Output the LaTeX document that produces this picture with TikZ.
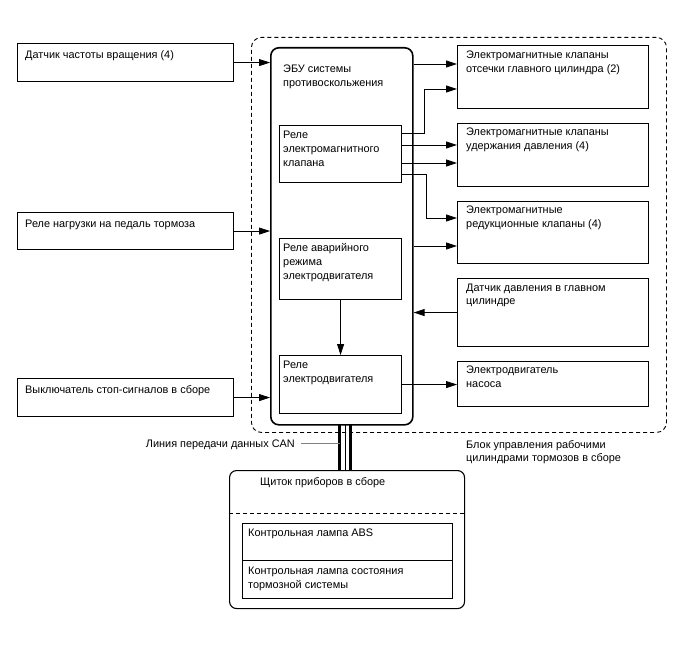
\documentclass[tikz,border=0pt]{standalone}
\usepackage{fontspec}
\setmainfont{Liberation Sans}
\usetikzlibrary{positioning,arrows.meta}

\begin{document}
\begin{tikzpicture}[x=1pt, y=-1pt,
    box/.style={draw, line width=1.1pt, anchor=north west, inner sep=0pt},
    txt/.style={anchor=north west, align=left, inner sep=0pt, font=\fontsize{10.9}{13.7}\selectfont, execute at begin node=\strut},
    sig/.style={-{Triangle[length=11pt,width=7pt]}, line width=0.8pt}]
    \useasboundingbox (0,0) rectangle (688,658);

    % Brake actuator assembly (dashed frame) and ECU
    \node[box, dashed, dash pattern=on 4pt off 3pt, line width=0.9pt, rounded corners=10pt, minimum width=415pt, minimum height=395pt] (unit) at (251,37) {};
    \node[box, line width=1.6pt, rounded corners=8pt, minimum width=142pt, minimum height=377pt] (ecu) at (270,47) {};
    \node[txt] (ecutxt) at ([shift={(13,17.5)}]ecu.north west) {ЭБУ системы\\противоскольжения};

    % Relays inside the ECU
    \node[box, minimum width=122pt, minimum height=57pt] (valverly) at (279,125) {};
    \node[txt] (valverlytxt) at ([shift={(4,6)}]valverly.north west) {Реле\\электромагнитного\\клапана};
    \node[box, minimum width=122pt, minimum height=61pt] (failrly) at (279,238) {};
    \node[txt] (failrlytxt) at ([shift={(4,5.5)}]failrly.north west) {Реле аварийного\\режима\\электродвигателя};
    \node[box, minimum width=122pt, minimum height=58pt] (motorrly) at (279,355) {};
    \node[txt] (motorrlytxt) at ([shift={(4,6)}]motorrly.north west) {Реле\\электродвигателя};

    % Inputs
    \node[box, minimum width=216pt, minimum height=38pt] (speed) at (17,43) {};
    \node[txt] (speedtxt) at ([shift={(8,5.5)}]speed.north west) {Датчик частоты вращения (4)};
    \node[box, minimum width=216pt, minimum height=37pt] (pedal) at (17,212) {};
    \node[txt] (pedaltxt) at ([shift={(8,5.5)}]pedal.north west) {Реле нагрузки на педаль тормоза};
    \node[box, minimum width=216pt, minimum height=38pt] (stopsw) at (17,378) {};
    \node[txt] (stopswtxt) at ([shift={(8,5.5)}]stopsw.north west) {Выключатель стоп-сигналов в сборе};

    % Outputs
    \node[box, minimum width=191pt, minimum height=63pt] (cutvlv) at (457,45) {};
    \node[txt] (cutvlvtxt) at ([shift={(9,5.5)}]cutvlv.north west) {Электромагнитные клапаны\\отсечки главного цилиндра (2)};
    \node[box, minimum width=191pt, minimum height=63pt] (holdvlv) at (457,123) {};
    \node[txt] (holdvlvtxt) at ([shift={(9,4.5)}]holdvlv.north west) {Электромагнитные клапаны\\удержания давления (4)};
    \node[box, minimum width=191pt, minimum height=62pt] (redvlv) at (457,201) {};
    \node[txt] (redvlvtxt) at ([shift={(9,4.5)}]redvlv.north west) {Электромагнитные\\редукционные клапаны (4)};
    \node[box, minimum width=191pt, minimum height=68pt] (mcsensor) at (457,278) {};
    \node[txt] (mcsensortxt) at ([shift={(9,5.5)}]mcsensor.north west) {Датчик давления в главном\\цилиндре};
    \node[box, minimum width=191pt, minimum height=45pt] (pump) at (457,361) {};
    \node[txt] (pumptxt) at ([shift={(9,4.5)}]pump.north west) {Электродвигатель\\насоса};

    \node[txt] (unittxt) at (466,440) {Блок управления рабочими\\цилиндрами тормозов в сборе};

    % Combination meter
    \node[box, rounded corners=7pt, minimum width=235pt, minimum height=138pt] (meter) at (229,470) {};
    \node[txt] (metertxt) at ([shift={(31,6)}]meter.north west) {Щиток приборов в сборе};
    \draw[dashed, dash pattern=on 4pt off 3pt, line width=0.9pt] ([yshift=-43]meter.north west) -- ([yshift=-43]meter.north east);
    \node[box, minimum width=210pt, minimum height=37pt] (abslamp) at (242,523) {};
    \node[txt] (abslamptxt) at ([shift={(6,4)}]abslamp.north west) {Контрольная лампа ABS};
    \node[box, minimum width=210pt, minimum height=38pt] (brklamp) at (242,560) {};
    \node[txt] (brklamptxt) at ([shift={(6,7)}]brklamp.north west) {Контрольная лампа состояния\\тормозной системы};

    % Input signals
    \draw[sig] (speed.east) -- (speed.east -| ecu.west);
    \draw[sig] (pedal.east) -- (pedal.east -| ecu.west);
    \draw[sig] (stopsw.east) -- (stopsw.east -| ecu.west);

    % Output signals
    \coordinate (cutA) at ([yshift=-19]cutvlv.north west);
    \coordinate (cutB) at ([yshift=-44]cutvlv.north west);
    \coordinate (holdA) at ([yshift=-22]holdvlv.north west);
    \coordinate (holdB) at ([yshift=-40]holdvlv.north west);
    \coordinate (redA) at ([yshift=-17]redvlv.north west);
    \coordinate (redB) at ([yshift=-45]redvlv.north west);
    \draw[sig] (cutA -| ecu.east) -- (cutA);
    \draw[sig] ([yshift=-8]valverly.north east) -- ++(22,0) |- (cutB);
    \draw[sig] (holdA -| valverly.east) -- (holdA);
    \draw[sig] (holdB -| valverly.east) -- (holdB);
    \draw[sig] ([yshift=-49]valverly.north east) -- ++(24,0) |- (redA);
    \draw[sig] (redB -| ecu.east) -- (redB);
    \draw[sig] (mcsensor.west) -- (mcsensor.west -| ecu.east);
    \draw[sig] (motorrly.east) -- (motorrly.east -| pump.west);
    \draw[sig] (failrly.south) -- (motorrly.north);

    % CAN line
    \coordinate (busL) at (339.5,424);
    \coordinate (busM) at (345.5,424);
    \coordinate (busR) at (350.5,424);
    \draw[line width=3pt] (busL) -- (busL |- meter.north);
    \draw[line width=0.8pt] (busM) -- (busM |- meter.north);
    \draw[line width=3pt] (busR) -- (busR |- meter.north);
    \node[txt, anchor=base east] (cantxt) at (295,447) {Линия передачи данных CAN};
    \draw[gray, line width=0.8pt] ([shift={(6,-3.5)}]cantxt.base east) -- ([shift={(0,-3.5)}]cantxt.base east -| busL);
\end{tikzpicture}
\end{document}
